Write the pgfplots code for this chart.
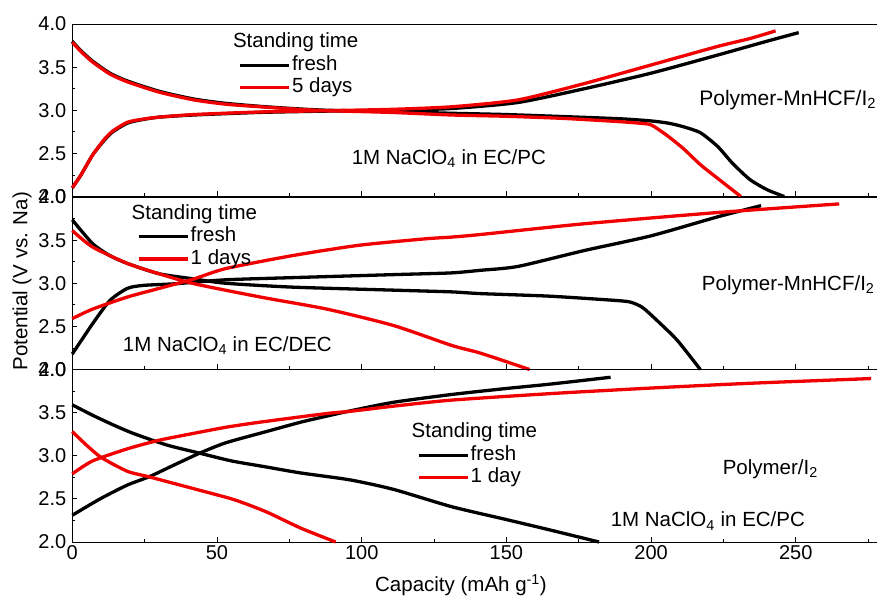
\documentclass[border=0pt]{standalone}
\usepackage{fontspec}
\setmainfont{Liberation Sans}
\usepackage{pgfplots}
\pgfplotsset{compat=1.18}
\definecolor{mred}{RGB}{240,0,0}
\newcommand{\txt}{\fontsize{20.5bp}{24bp}\selectfont}
\newcommand{\txtb}{\fontsize{21bp}{24bp}\selectfont}
\pgfplotsset{
  panel/.style={
    scale only axis, width=868.2bp, height=172.5bp,
    xmin=0, xmax=300, ymin=2, ymax=4,
    xtick={0,50,100,150,200,250}, minor xtick={25,75,125,175,225,275},
    ytick={2,2.5,3,3.5,4}, minor y tick num=1,
    tick pos=left, tick align=inside,
    major tick length=5bp, minor tick length=3bp,
    axis line style={line width=0.8bp},
    every tick/.append style={black, line width=0.8bp},
    yticklabel style={/pgf/number format/fixed, /pgf/number format/fixed zerofill, /pgf/number format/precision=1, xshift=-2.5bp},
    /pgf/number format/assume math mode=true,
    tick label style={font=\fontsize{20bp}{23bp}\selectfont},
    clip=false,
    legend style={draw=none, fill=none, inner sep=0pt, font=\txt,
      nodes={inner sep=1.5bp, text height=14.5bp, text depth=4.5bp},
      row sep=0.5bp, anchor=north west},
    legend cell align=left,
    legend image code/.code={\draw[##1] (0bp,0bp) -- (49bp,0bp);},
  },
  bk/.style={black, line width=3.3bp, line join=round, smooth, tension=0.4},
  rd/.style={mred, line width=3.3bp, line join=round, smooth, tension=0.4},
}
\begin{document}
\begin{tikzpicture}
% ---------------- top panel ----------------
\begin{axis}[panel, at={(72.3bp,399.5bp)}, anchor=south west, xticklabels={},
  legend style={at={(0.1909,0.956)}}]
\addlegendimage{empty legend}\addlegendentry{\hspace{-59bp}Standing time}
\addplot[bk] coordinates {(0,2.10)(3,2.25)(7,2.48)(11,2.65)(14,2.75)(19,2.85)(24,2.89)(30,2.92)(42,2.945)(65,2.975)(88,2.99)(110,3.00)(131,3.02)(154,3.09)(177,3.25)(200,3.43)(223,3.64)(240,3.80)(251,3.90)};
\addlegendentry{fresh}
\addplot[bk, forget plot] coordinates {(0,3.80)(3,3.69)(7,3.57)(13,3.43)(19,3.34)(30,3.22)(42,3.13)(53,3.08)(65,3.045)(76,3.02)(88,3.00)(110,2.985)(131,2.965)(150,2.95)(175,2.92)(190,2.90)(200,2.876)(206,2.85)(211,2.81)(217,2.74)(223,2.58)(228,2.39)(234,2.20)(240,2.08)(246,2.00)};
\addplot[rd] coordinates {(0,2.10)(3,2.25)(7,2.48)(11,2.66)(14,2.76)(19,2.86)(24,2.895)(30,2.92)(42,2.95)(65,2.98)(88,2.995)(110,3.01)(131,3.04)(154,3.12)(177,3.31)(200,3.525)(223,3.74)(234,3.83)(243,3.92)};
\addlegendentry{5 days}
\addplot[rd, forget plot] coordinates {(0,3.79)(3,3.68)(7,3.56)(13,3.42)(19,3.33)(30,3.21)(42,3.12)(53,3.07)(65,3.04)(76,3.015)(88,2.995)(110,2.975)(131,2.945)(150,2.93)(170,2.905)(188,2.87)(196,2.85)(200,2.83)(205,2.72)(211,2.56)(217,2.37)(223,2.21)(231,2.00)};
\node[anchor=base west, font=\txtb, inner sep=0pt] at (axis cs:216.6,3.053) {Polymer-MnHCF/I\textsubscript{2}};
\node[anchor=base west, font=\txt, inner sep=0pt] at (axis cs:96.5,2.373) {1M NaClO\textsubscript{4} in EC/PC};
\end{axis}
% ---------------- middle panel ----------------
\begin{axis}[panel, at={(72.3bp,226.5bp)}, anchor=south west, xticklabels={},
  legend style={at={(0.0742,0.966)}},
  ylabel={Potential (V vs. Na)},
  ylabel style={at={(rel axis cs:-0.0579,0.5116)}, anchor=center, font=\txt}]
\addlegendimage{empty legend}\addlegendentry{\hspace{-59bp}Standing time}
\addplot[bk] coordinates {(0,2.18)(7,2.53)(13,2.80)(19,2.94)(24.5,2.975)(36,2.995)(53,3.04)(76,3.065)(111,3.10)(131,3.12)(141,3.15)(154,3.195)(177,3.38)(200,3.55)(223,3.77)(238,3.90)};
\addlegendentry{fresh}
\addplot[bk, forget plot] coordinates {(0,3.735)(7,3.46)(13,3.32)(19,3.23)(30,3.11)(42,3.05)(53,3.00)(76,2.955)(111,2.92)(131,2.90)(141,2.88)(165,2.85)(188,2.80)(193,2.78)(197,2.72)(202,2.57)(209,2.34)(217,2.00)};
\addplot[rd] coordinates {(0,2.59)(7,2.70)(19,2.84)(30,2.94)(42,3.05)(53,3.17)(76,3.32)(99,3.44)(122,3.515)(131,3.535)(141,3.565)(177,3.69)(223,3.82)(265,3.92)};
\addlegendentry{1 days}
\addplot[rd, forget plot] coordinates {(0,3.61)(7,3.42)(19,3.23)(30,3.11)(42,2.995)(65,2.84)(88,2.70)(111,2.51)(131,2.28)(141,2.19)(158,2.00)};
\node[anchor=base west, font=\txt, inner sep=0pt] at (axis cs:217.5,2.92) {Polymer-MnHCF/I\textsubscript{2}};
\node[anchor=base west, font=\txt, inner sep=0pt] at (axis cs:17.4,2.206) {1M NaClO\textsubscript{4} in EC/DEC};
\end{axis}
% ---------------- bottom panel ----------------
\begin{axis}[panel, at={(72.3bp,54bp)}, anchor=south west,
  legend style={at={(0.3967,0.698)}},
  xlabel={Capacity (mAh g\textsuperscript{-1})},
  xlabel style={at={(rel axis cs:0.4477,-0.249)}, anchor=center, font=\txt}]
\addlegendimage{empty legend}\addlegendentry{\hspace{-59bp}Standing time}
\addplot[bk] coordinates {(0,2.31)(9.6,2.50)(19,2.66)(26.8,2.76)(35,2.89)(44,3.03)(53,3.15)(67,3.28)(79,3.39)(88,3.46)(96,3.52)(111,3.62)(131,3.71)(150,3.78)(165,3.83)(186,3.91)};
\addlegendentry{fresh}
\addplot[bk, forget plot] coordinates {(0,3.59)(7,3.47)(14,3.36)(21,3.26)(32.6,3.125)(44,3.03)(55,2.94)(67,2.87)(79,2.80)(96,2.72)(111,2.61)(131,2.41)(150,2.26)(165,2.14)(182,2.00)};
\addplot[rd] coordinates {(0,2.79)(7,2.94)(19,3.08)(30,3.18)(42,3.26)(53,3.33)(65,3.39)(88,3.49)(96,3.515)(111,3.575)(131,3.645)(165,3.72)(200,3.785)(234,3.84)(276,3.895)};
\addlegendentry{1 day}
\addplot[rd, forget plot] coordinates {(0,3.28)(5,3.12)(10,2.98)(19,2.82)(26,2.76)(35,2.68)(44,2.60)(56,2.49)(67,2.35)(79,2.16)(91,2.00)};
\node[anchor=base west, font=\txt, inner sep=0pt] at (axis cs:224.7,2.78) {Polymer/I\textsubscript{2}};
\node[anchor=base west, font=\txt, inner sep=0pt] at (axis cs:186,2.174) {1M NaClO\textsubscript{4} in EC/PC};
\end{axis}
\pgfresetboundingbox
\path[use as bounding box] (0bp,0bp) rectangle (877bp,596bp);
\end{tikzpicture}
\end{document}
